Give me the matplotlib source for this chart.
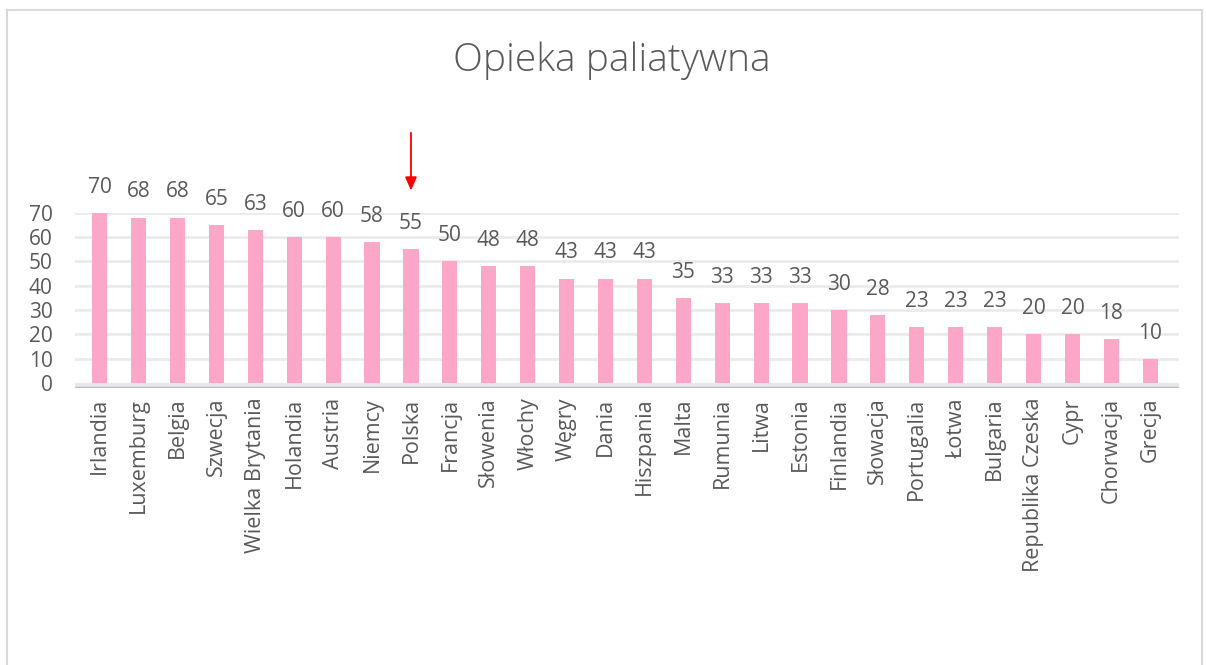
import matplotlib.pyplot as plt
from matplotlib.lines import Line2D

countries = ["Irlandia", "Luxemburg", "Belgia", "Szwecja", "Wielka Brytania", "Holandia",
             "Austria", "Niemcy", "Polska", "Francja", "Słowenia", "Włochy", "Węgry", "Dania",
             "Hiszpania", "Malta", "Rumunia", "Litwa", "Estonia", "Finlandia", "Słowacja",
             "Portugalia", "Łotwa", "Bulgaria", "Republika Czeska", "Cypr", "Chorwacja", "Grecja"]
scores = [70, 68, 68, 65, 63, 60, 60, 58, 55, 50, 48, 48, 43, 43, 43, 35,
          33, 33, 33, 30, 28, 23, 23, 23, 20, 20, 18, 10]
yticks = [0, 10, 20, 30, 40, 50, 60, 70]
highlight = "Polska"

plt.rcParams['font.family'] = ['Open Sans', 'DejaVu Sans']
grey = '#595959'

fig = plt.figure(figsize=(12.06, 6.65), dpi=100)
ax = fig.add_axes([0.062, 0.4165, 0.916, 0.2635])

x = list(range(len(countries)))
ax.bar(x, scores, width=0.39, color='#FCA6C8', zorder=3)

# floor band and front edge
ax.axhspan(-2, 0, color='#E8E8E8', zorder=1)
ax.axhline(-2, color='#B4BFD0', lw=2.5, zorder=4)
for t in yticks[1:]:
    ax.axhline(t, color='#EBEBEB', lw=2, zorder=0)

for i, v in enumerate(scores):
    ax.annotate(str(v), (i, v), xytext=(0, 11), textcoords='offset points',
                ha='center', va='bottom', fontsize=15, color=grey, annotation_clip=False)

# red arrow above Polska
p = countries.index(highlight)
ax.annotate('', xy=(p, 78), xytext=(p, 104), annotation_clip=False,
            arrowprops=dict(arrowstyle='-|>,head_width=0.35,head_length=0.8',
                            color='#FF0000', lw=1.3))

ax.set_xlim(-0.64, 27.75)
ax.set_ylim(-2, 70)
ax.set_yticks(yticks)
ax.set_yticklabels([str(t) for t in yticks], fontsize=15, color=grey)
ax.set_xticks(x)
ax.set_xticklabels(countries, rotation=90, fontsize=15.5, color=grey)
ax.tick_params(length=0, pad=7)
ax.tick_params(axis='y', pad=16)
for s in ax.spines.values():
    s.set_visible(False)

fig.text(0.507, 0.908, "Opieka paliatywna", ha='center', va='center', fontsize=28,
         color=grey, fontweight='light')

# chart border
bc = '#D9D9D9'
fig.add_artist(Line2D([0.0058, 0.0058], [0, 0.985], color=bc, lw=1.5))
fig.add_artist(Line2D([0.0058, 0.997], [0.985, 0.985], color=bc, lw=1.5))
fig.add_artist(Line2D([0.997, 0.997], [0, 0.985], color=bc, lw=1.5))

fig.savefig('out.png', dpi=100)
